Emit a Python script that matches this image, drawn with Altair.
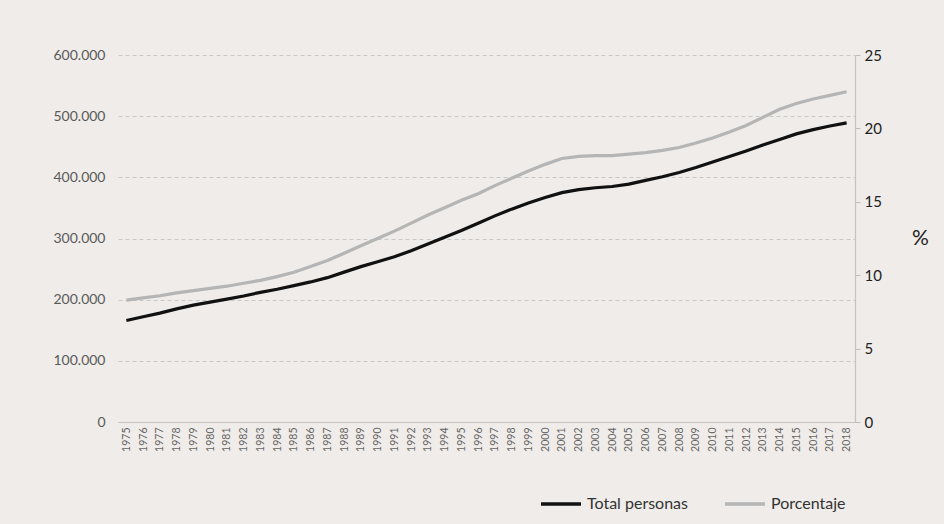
import altair as alt
import pandas as pd

# Años de la serie
anios = list(range(1975, 2019))

# Total de personas (eje izquierdo)
total_personas = [
    166000, 172000, 178000, 185000, 191000, 196000, 201000, 206000, 212000, 217000,
    223000, 229000, 236000, 245000, 254000, 262000, 270000, 280000, 291000, 302000,
    313000, 325000, 337000, 348000, 358000, 367000, 375000, 380000, 383000, 385000,
    389000, 395000, 401000, 408000, 416000, 425000, 434000, 443000, 453000, 462000,
    471000, 478000, 484000, 489000,
]

# Porcentaje (eje derecho)
porcentaje = [
    8.3, 8.45, 8.6, 8.8, 8.95, 9.1, 9.25, 9.45, 9.65, 9.9,
    10.2, 10.6, 11.0, 11.5, 12.0, 12.5, 13.0, 13.55, 14.1, 14.6,
    15.1, 15.55, 16.1, 16.6, 17.1, 17.55, 17.95, 18.1, 18.15, 18.15,
    18.25, 18.35, 18.5, 18.7, 19.0, 19.35, 19.75, 20.2, 20.75, 21.3,
    21.7, 22.0, 22.25, 22.5,
]

series = ["Total personas", "Porcentaje"]
colores = ["#111111", "#b5b5b5"]

df = pd.DataFrame(
    {
        "anio": anios * 2,
        "serie": [series[0]] * len(anios) + [series[1]] * len(anios),
        "valor": total_personas + porcentaje,
    }
)

FONT = "Lato"

color = alt.Color(
    "serie:N",
    scale=alt.Scale(domain=series, range=colores),
    legend=alt.Legend(
        title=None,
        orient="none",
        direction="horizontal",
        legendX=421,
        legendY=427,
        padding=0,
        symbolType="stroke",
        symbolSize=1600,
        symbolStrokeWidth=3.5,
        labelFont=FONT,
        labelFontSize=16,
        labelColor="#333333",
        labelOffset=4,
        columnPadding=30,
    ),
)

x = alt.X(
    "anio:O",
    title=None,
    axis=alt.Axis(
        labelAngle=-90,
        labelFont=FONT,
        labelFontSize=10.5,
        labelColor="#666666",
        labelPadding=5,
        ticks=False,
        domainColor="#c4c4c4",
        domainWidth=1.2,
        grid=False,
    ),
)

base = alt.Chart(df)

linea_total = base.transform_filter(alt.datum.serie == series[0]).mark_line(
    strokeWidth=3.2
).encode(
    x=x,
    y=alt.Y(
        "valor:Q",
        title=None,
        scale=alt.Scale(domain=[0, 600000], nice=False),
        axis=alt.Axis(
            orient="left",
            values=[0, 100000, 200000, 300000, 400000, 500000, 600000],
            labelExpr="replace(format(datum.value, ',.0f'), ',', '.')",
            labelFont=FONT,
            labelFontSize=14,
            labelColor="#5a5a5a",
            labelPadding=13,
            ticks=False,
            domain=False,
            grid=True,
            gridColor="#c8c8c8",
            gridDash=[4, 3],
            gridWidth=1,
        ),
    ),
    color=color,
)

linea_pct = base.transform_filter(alt.datum.serie == series[1]).mark_line(
    strokeWidth=3.2
).encode(
    x=x,
    y=alt.Y(
        "valor:Q",
        title="%",
        scale=alt.Scale(domain=[0, 25], nice=False),
        axis=alt.Axis(
            orient="right",
            values=[0, 5, 10, 15, 20, 25],
            labelFont=FONT,
            labelFontSize=15,
            labelColor="#222222",
            labelPadding=4,
            ticks=True,
            tickSize=5,
            tickColor="#bdbdbd",
            domain=True,
            domainColor="#c4c4c4",
            domainWidth=1.2,
            grid=False,
            titleFont=FONT,
            titleFontSize=21,
            titleFontWeight="normal",
            titleColor="#222222",
            titleAngle=0,
            titleAlign="center",
            titleBaseline="middle",
            titleX=65,
            titleY=183,
        ),
    ),
    color=color,
)

chart = (
    alt.layer(linea_pct, linea_total)
    .resolve_scale(y="independent")
    .properties(
        width=737,
        height=367,
        background="#efece9",
        padding={"left": 118, "top": 55, "right": 89, "bottom": 102},
        autosize=alt.AutoSizeParams(type="none"),
    )
    .configure_view(stroke=None)
)

chart.save("out.html", embed_options={"renderer": "svg", "actions": False})
